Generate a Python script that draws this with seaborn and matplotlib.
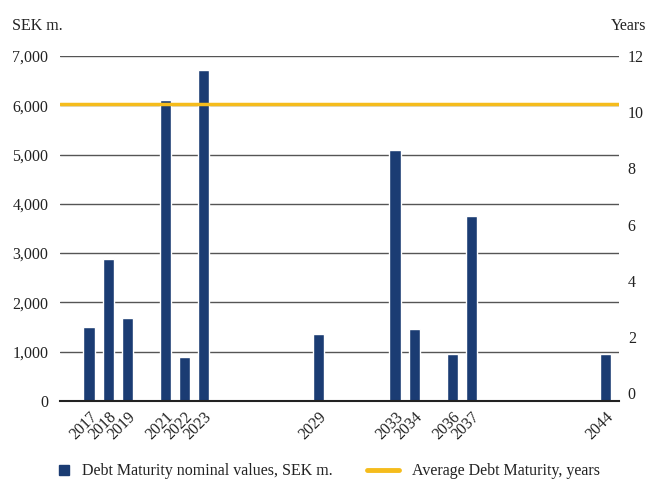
import matplotlib
matplotlib.use("Agg")
import matplotlib.pyplot as plt
from matplotlib.lines import Line2D
import seaborn as sns
import pandas as pd

# Debt maturity data
years = [2017, 2018, 2019, 2021, 2022, 2023, 2029, 2033, 2034, 2036, 2037, 2044]
nominal = [1500, 2880, 1680, 6100, 900, 6720, 1350, 5100, 1450, 960, 3750, 960]
avg_maturity = 10.3
left_ticks = [0, 1000, 2000, 3000, 4000, 5000, 6000, 7000]
right_ticks = [0, 2, 4, 6, 8, 10, 12]

navy = "#1b3c73"
yellow = "#f5bc1c"

sns.set_theme(style="white")
plt.rcParams["font.family"] = ["Liberation Serif", "DejaVu Serif"]

df = pd.DataFrame({"year": years, "value": nominal})

fig = plt.figure(figsize=(6.48, 4.83), dpi=100)
ax = fig.add_axes([0.093, 0.17, 0.862, 0.714])

sns.barplot(data=df, x="year", y="value", native_scale=True, color=navy,
            saturation=1, width=0.58, ax=ax, zorder=3)
ax.set_xlim(2015.5, 2044.7)
ax.set_ylim(0, 7000)
ax.set_yticks(left_ticks)
ax.set_yticklabels([f"{v:,}" for v in left_ticks], fontsize=11.5, color="#222222")
ax.grid(axis="y", color="#555555", lw=1)
ax.set_xticks(years)
ax.set_xticklabels([str(y) for y in years], rotation=45, ha="right",
                   rotation_mode="anchor", fontsize=11.5, color="#222222")
ax.tick_params(axis="y", length=0, pad=8.5)
ax.tick_params(axis="x", length=0, pad=6)
ax.set_xlabel("")
ax.set_ylabel("")
for s in ["left", "right", "top"]:
    ax.spines[s].set_visible(False)
ax.spines["bottom"].set_color("#222222")
ax.spines["bottom"].set_linewidth(1.5)
ax.spines["bottom"].set_zorder(5)

ax2 = ax.twinx()
ax2.axhline(avg_maturity, color=yellow, lw=2.5, zorder=4)
ax2.set_ylim(-0.28, 12)
ax2.set_yticks(right_ticks)
ax2.set_yticklabels([str(v) for v in right_ticks], fontsize=11.5, color="#222222")
ax2.tick_params(axis="y", length=0, pad=6.5)
for s in ax2.spines.values():
    s.set_visible(False)

fig.text(0.018, 0.947, "SEK m.", fontsize=11.5, color="#222222", va="center")
fig.text(0.998, 0.947, "Years", fontsize=11.5, color="#222222", va="center", ha="right")

# legend: two separate entries placed like the reference
leg1 = fig.legend([Line2D([], [], marker="s", color=navy, linestyle="none", markersize=7.5)],
                  ["Debt Maturity nominal values, SEK m."],
                  loc="center left", bbox_to_anchor=(0.087, 0.024), frameon=False,
                  fontsize=11.5, handlelength=1.0, handletextpad=0.6,
                  labelcolor="#222222", borderaxespad=0, borderpad=0)
leg2 = fig.legend([Line2D([], [], color=yellow, lw=3.5)],
                  ["Average Debt Maturity, years"],
                  loc="center left", bbox_to_anchor=(0.567, 0.024), frameon=False,
                  fontsize=11.5, handlelength=2.0, handletextpad=0.8,
                  labelcolor="#222222", borderaxespad=0, borderpad=0)

fig.savefig("out.png", dpi=100)
